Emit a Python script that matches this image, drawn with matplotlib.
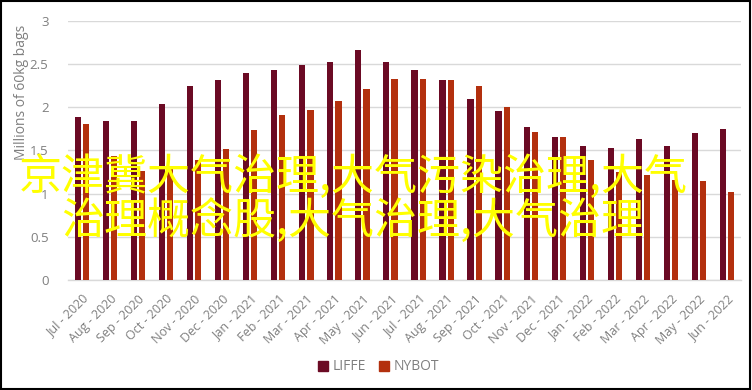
import matplotlib
matplotlib.use("Agg")
import matplotlib.pyplot as plt
import numpy as np
from matplotlib.patches import Rectangle
from matplotlib.lines import Line2D

months = ["Jul - 2020", "Aug - 2020", "Sep - 2020", "Oct - 2020", "Nov - 2020", "Dec - 2020",
          "Jan - 2021", "Feb - 2021", "Mar - 2021", "Apr - 2021", "May - 2021", "Jun - 2021",
          "Jul - 2021", "Aug - 2021", "Sep - 2021", "Oct - 2021", "Nov - 2021", "Dec - 2021",
          "Jan - 2022", "Feb - 2022", "Mar - 2022", "Apr - 2022", "May - 2022", "Jun - 2022"]
liffe = [1.89, 1.84, 1.84, 2.04, 2.24, 2.31, 2.40, 2.43, 2.49, 2.52, 2.66, 2.52,
         2.43, 2.31, 2.09, 1.96, 1.77, 1.655, 1.55, 1.53, 1.63, 1.555, 1.70, 1.75]
nybot = [1.81, 1.44, 1.26, 1.28, 1.39, 1.52, 1.74, 1.91, 1.97, 2.07, 2.21, 2.32,
         2.32, 2.31, 2.25, 2.00, 1.71, 1.655, 1.385, 1.25, 1.215, 1.16, 1.15, 1.02]
yticks = [0, 0.5, 1, 1.5, 2, 2.5, 3]
ytick_labels = ["0", "0.5", "1", "1.5", "2", "2.5", "3"]
series_names = ["LIFFE", "NYBOT"]
overlay_lines = ["京津冀大气治理,大气污染治理,大气", "治理概念股,大气治理,大气治理"]

c_liffe = "#6B0A24"
c_nybot = "#B3300E"
gray = "#7f7f7f"

fig = plt.figure(figsize=(7.52, 3.90), dpi=100)
ax = fig.add_axes([68/752, 110/390, 673/752, 259.3/390])

x = np.arange(len(months))
w = 0.22
ax.bar(x - 0.145, liffe, width=w, color=c_liffe, zorder=3)
ax.bar(x + 0.145, nybot, width=w, color=c_nybot, zorder=3)

ax.set_xlim(-0.5, len(months) - 0.5)
ax.set_ylim(0, 3)
ax.set_yticks(yticks)
ax.set_yticklabels(ytick_labels, fontsize=9.5, color=gray, family="Open Sans")
ax.set_xticks(x)
ax.set_xticklabels(months, rotation=45, ha="right", rotation_mode="anchor",
                   fontsize=9, color=gray, family="Open Sans")
ax.tick_params(axis="both", length=0)
ax.tick_params(axis="y", pad=14)
ax.tick_params(axis="x", pad=9)
ax.grid(axis="y", color="#d9d9d9", linewidth=1, zorder=0)
for s in ["top", "right", "left"]:
    ax.spines[s].set_visible(False)
ax.spines["bottom"].set_color("#d9d9d9")
ax.spines["bottom"].set_linewidth(1)
ax.set_ylabel("Millions of 60kg bags", fontsize=10, color=gray, family="Open Sans")
ax.yaxis.set_label_coords(-0.058, 0.725)

handles = [Line2D([], [], marker="s", linestyle="none", color=c_liffe, markersize=7),
           Line2D([], [], marker="s", linestyle="none", color=c_nybot, markersize=7)]
leg = fig.legend(handles, series_names, loc="center", bbox_to_anchor=(0.503, 23/390),
                 ncol=2, frameon=False, handlelength=0.8, handletextpad=0.3,
                 columnspacing=0.9, prop={"family": "Open Sans", "size": 10})
for t in leg.get_texts():
    t.set_color(gray)

fig.text(353/752, 1 - 178/390, overlay_lines[0], ha="center", va="center", fontsize=31,
         fontweight="medium", color="#FFFF00", family=["Noto Sans CJK SC", "DejaVu Sans"], zorder=10)
fig.text(353/752, 1 - 221/390, overlay_lines[1], ha="center", va="center", fontsize=31,
         fontweight="medium", color="#FFFF00", family=["Noto Sans CJK SC", "DejaVu Sans"], zorder=10)

fig.patches.append(Rectangle((0.001, 0.002), 0.997, 0.995, transform=fig.transFigure,
                             fill=False, edgecolor="black", linewidth=1.5))

fig.savefig("out.png", dpi=100)
